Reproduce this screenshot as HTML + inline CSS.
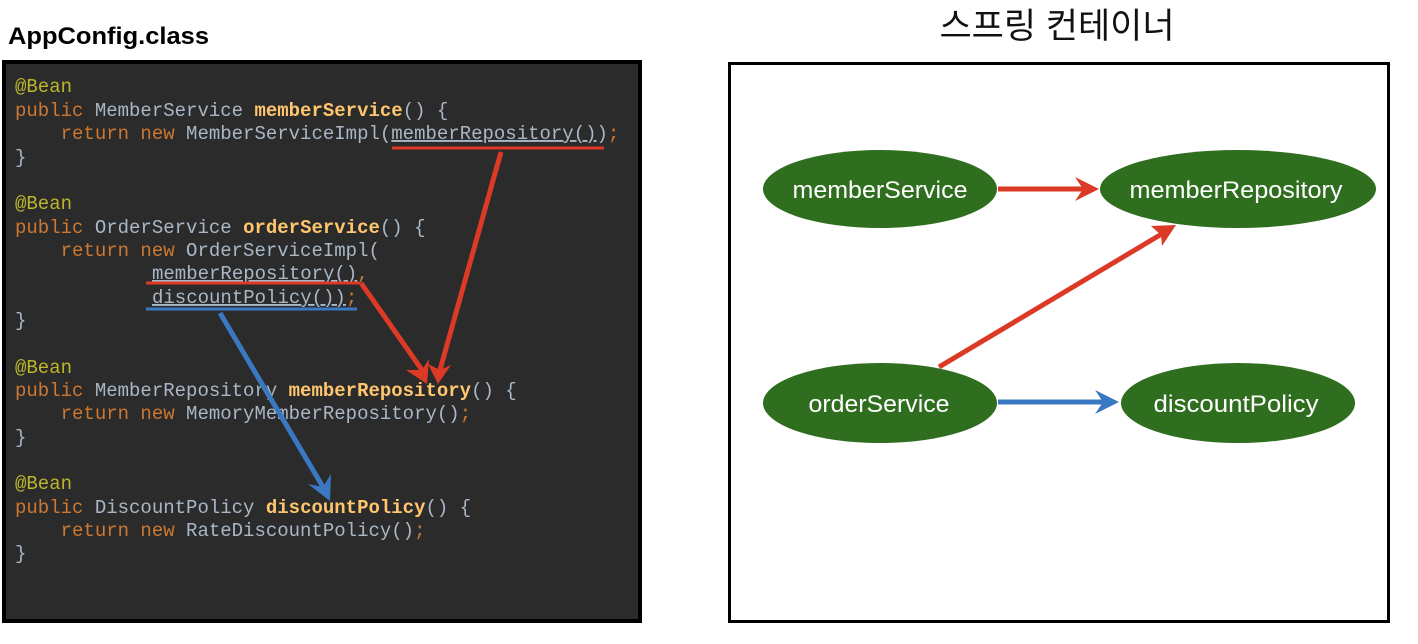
<!DOCTYPE html>
<html><head><meta charset="utf-8"><style>
html,body{margin:0;padding:0;background:#fff;width:1418px;height:644px;overflow:hidden}
.code text{white-space:pre}
</style></head><body>
<svg width="1418" height="644" viewBox="0 0 1418 644" xmlns="http://www.w3.org/2000/svg">
<text x="8" y="44" font-family="Liberation Sans, sans-serif" font-weight="bold" font-size="24" fill="#000" textLength="201" lengthAdjust="spacingAndGlyphs">AppConfig.class</text>
<text x="1057" y="38" text-anchor="middle" font-family="Liberation Sans, 'Noto Sans CJK KR', sans-serif" font-size="35" fill="#111">스프링 컨테이너</text>
<rect x="4" y="62" width="636" height="559" fill="#2b2b2b" stroke="#000" stroke-width="4"/>
<g class="code" font-family="Liberation Mono, monospace" font-size="19" fill="#a9b7c6">
<text x="15" y="92"><tspan fill="#bbb529">@Bean</tspan></text>
<text x="15" y="116"><tspan fill="#cc7832">public</tspan> MemberService <tspan fill="#ffc66d" font-weight="bold">memberService</tspan>() {</text>
<text x="15" y="139"><tspan fill="#cc7832">    return new</tspan> MemberServiceImpl(<tspan text-decoration="underline">memberRepository()</tspan>)<tspan fill="#cc7832">;</tspan></text>
<text x="15" y="163">}</text>
<text x="15" y="209"><tspan fill="#bbb529">@Bean</tspan></text>
<text x="15" y="233"><tspan fill="#cc7832">public</tspan> OrderService <tspan fill="#ffc66d" font-weight="bold">orderService</tspan>() {</text>
<text x="15" y="256"><tspan fill="#cc7832">    return new</tspan> OrderServiceImpl(</text>
<text x="152" y="279"><tspan text-decoration="underline">memberRepository()</tspan><tspan fill="#cc7832">,</tspan></text>
<text x="152" y="303"><tspan text-decoration="underline">discountPolicy())</tspan><tspan fill="#cc7832">;</tspan></text>
<text x="15" y="326">}</text>
<text x="15" y="373"><tspan fill="#bbb529">@Bean</tspan></text>
<text x="15" y="396"><tspan fill="#cc7832">public</tspan> MemberRepository <tspan fill="#ffc66d" font-weight="bold">memberRepository</tspan>() {</text>
<text x="15" y="419"><tspan fill="#cc7832">    return new</tspan> MemoryMemberRepository()<tspan fill="#cc7832">;</tspan></text>
<text x="15" y="443">}</text>
<text x="15" y="489"><tspan fill="#bbb529">@Bean</tspan></text>
<text x="15" y="513"><tspan fill="#cc7832">public</tspan> DiscountPolicy <tspan fill="#ffc66d" font-weight="bold">discountPolicy</tspan>() {</text>
<text x="15" y="536"><tspan fill="#cc7832">    return new</tspan> RateDiscountPolicy()<tspan fill="#cc7832">;</tspan></text>
<text x="15" y="559">}</text>
</g>
<line x1="392" y1="148" x2="604" y2="148" stroke="#dc3a26" stroke-width="3"/>
<line x1="146" y1="283" x2="360" y2="283" stroke="#dc3a26" stroke-width="3"/>
<line x1="146" y1="309" x2="357" y2="309" stroke="#3a78c2" stroke-width="3"/>
<g stroke-width="5" fill="none">
<line x1="501" y1="152" x2="440" y2="370" stroke="#dc3a26"/>
<polygon points="428,364 438,384 451,365 440,370" fill="#dc3a26" stroke="none"/>
<line x1="361" y1="283" x2="422" y2="370" stroke="#dc3a26"/>
<polygon points="406,370 427,384 429,359 422,370" fill="#dc3a26" stroke="none"/>
<line x1="220" y1="313" x2="323" y2="487" stroke="#3a78c2"/>
<polygon points="308,484 330,501 331,474 323,487" fill="#3a78c2" stroke="none"/>
</g>
<rect x="729.5" y="63.5" width="659" height="558" fill="#fff" stroke="#000" stroke-width="3"/>
<g fill="#2f6e1f">
<ellipse cx="880" cy="189" rx="117" ry="39"/>
<ellipse cx="1238" cy="189" rx="138" ry="39"/>
<ellipse cx="880" cy="403" rx="117" ry="40"/>
<ellipse cx="1238" cy="403" rx="117" ry="40"/>
</g>
<g font-family="Liberation Sans, sans-serif" font-size="24" fill="#fff" text-anchor="middle">
<text x="880" y="198" textLength="175" lengthAdjust="spacingAndGlyphs">memberService</text>
<text x="1236" y="198" textLength="213" lengthAdjust="spacingAndGlyphs">memberRepository</text>
<text x="879" y="412" textLength="141" lengthAdjust="spacingAndGlyphs">orderService</text>
<text x="1236" y="412" textLength="165" lengthAdjust="spacingAndGlyphs">discountPolicy</text>
</g>
<g stroke-width="5">
<line x1="998" y1="189" x2="1086" y2="189" stroke="#dc3a26"/>
<polygon points="1075,177 1099,189 1075,201 1083,189" fill="#dc3a26"/>
<line x1="939" y1="367" x2="1165" y2="232" stroke="#dc3a26"/>
<polygon points="1151,226 1176,225 1162,246 1161,235" fill="#dc3a26"/>
<line x1="998" y1="402" x2="1106" y2="402" stroke="#3a78c2"/>
<polygon points="1095,390 1119,402 1095,414 1103,402" fill="#3a78c2"/>
</g>
</svg>
</body></html>
